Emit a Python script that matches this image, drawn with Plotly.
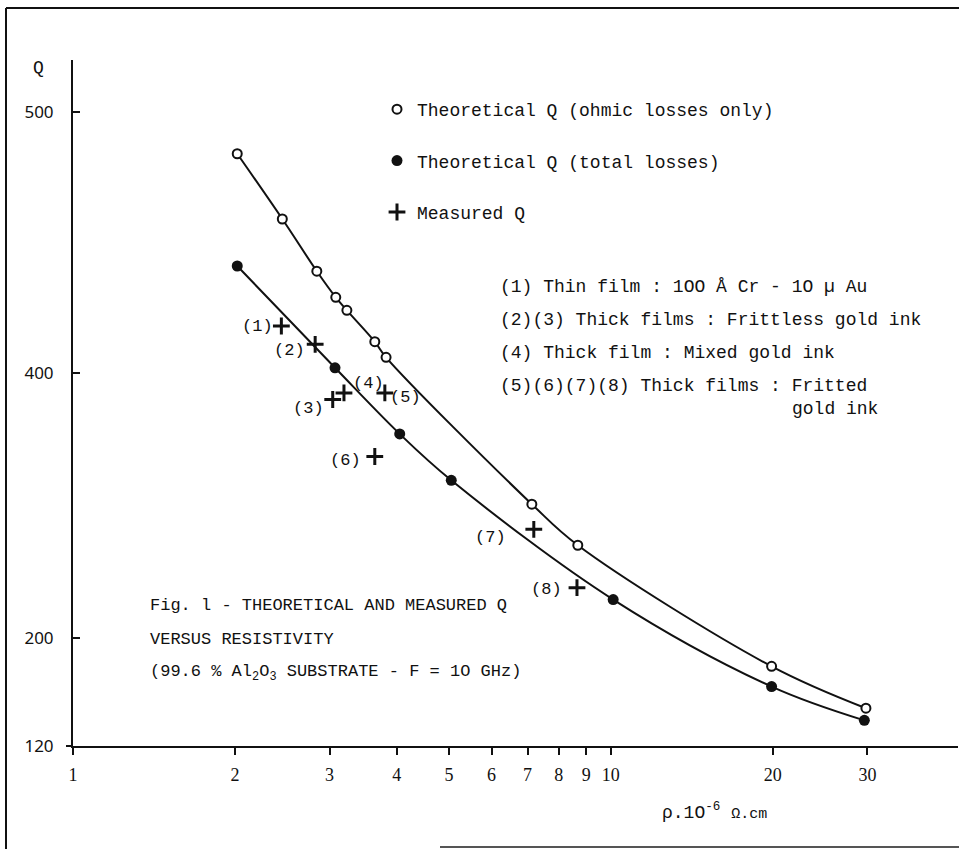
import numpy as np
import plotly.graph_objects as go

# ---------------- data ----------------
RHO_OHMIC = [2.02, 2.45, 2.84, 3.08, 3.23, 3.64, 3.82, 7.13, 8.68, 19.9, 29.8]
Q_OHMIC = [484, 459, 439, 429, 424, 412, 406, 301, 270, 179, 148]

RHO_TOTAL = [2.02, 3.07, 4.05, 5.05, 10.1, 19.9, 29.6]
Q_TOTAL = [441, 402, 354, 319, 229, 164, 139]

RHO_MEAS = [2.44, 2.82, 3.04, 3.19, 3.80, 3.64, 7.19, 8.65]
Q_MEAS = [418, 411, 380, 385, 385, 337, 282, 238]

MEAS_LABELS = ["(1)", "(2)", "(3)", "(4)", "(5)", "(6)", "(7)", "(8)"]
MEAS_LABEL_POINT = [0, 1, 2, 4, 4, 5, 6, 7]

X_TICKS = [1, 2, 3, 4, 5, 6, 7, 8, 9, 10, 20, 30]
X_TICK_TEXT = ["1", "2", "3", "4", "5", "6", "7", "8", "9", "10", "20", "30"]
Y_TICKS = [120, 200, 400, 500]
Y_TICK_TEXT = ["120", "200", "400", "500"]

# The printed Q axis is irregular: tick spacing along the axis (axis units)
Y_TICK_AXIS_POS = [0, 108, 373, 634]


def qscale(q):
    return np.interp(q, Y_TICKS, Y_TICK_AXIS_POS)


# ---------------- geometry helpers ----------------
W, H = 959, 849
ML, MR, MT, MB = 73, 1, 60, 103
PW, PH = W - ML - MR, H - MT - MB


def px_x(p):
    return (p - ML) / PW


def px_y(p):
    return (H - MB - p) / PH


MONO = "Liberation Mono"
BLACK = "#111"

fig = go.Figure()

# curves
fig.add_trace(go.Scatter(x=RHO_OHMIC, y=qscale(Q_OHMIC), mode="lines",
                         line=dict(color=BLACK, width=2, shape="spline", smoothing=1.0),
                         showlegend=False, hoverinfo="skip"))
fig.add_trace(go.Scatter(x=RHO_TOTAL, y=qscale(Q_TOTAL), mode="lines",
                         line=dict(color=BLACK, width=2, shape="spline", smoothing=1.0),
                         showlegend=False, hoverinfo="skip"))

# markers (also legend entries)
fig.add_trace(go.Scatter(x=RHO_OHMIC, y=qscale(Q_OHMIC), mode="markers",
                         name="Theoretical Q (ohmic losses only)", legendgroup="a",
                         marker=dict(symbol="circle", size=9, color="white",
                                     line=dict(color=BLACK, width=2))))
fig.add_trace(go.Scatter(x=RHO_TOTAL, y=qscale(Q_TOTAL), mode="markers",
                         name="Theoretical Q (total losses)", legendgroup="b",
                         marker=dict(symbol="circle", size=11, color=BLACK,
                                     line=dict(color=BLACK, width=0))))
fig.add_trace(go.Scatter(x=RHO_MEAS, y=qscale(Q_MEAS), mode="markers",
                         name="Measured Q", legendgroup="c",
                         marker=dict(symbol="cross-thin", size=12,
                                     line=dict(color=BLACK, width=3))))

annotations = []
# point labels
label_shift = {
    "(1)": ("right", -6, 0), "(2)": ("right", -8, -6), "(3)": ("right", -7, -9),
    "(4)": ("right", 1, 9), "(5)": ("left", 3, -5), "(6)": ("right", -12, -4),
    "(7)": ("right", -26, -8), "(8)": ("right", -13, -2),
}
for lab, idx in zip(MEAS_LABELS, MEAS_LABEL_POINT):
    anc, xs, ys = label_shift[lab]
    annotations.append(dict(x=np.log10(RHO_MEAS[idx]), y=float(qscale(Q_MEAS[idx])),
                            xref="x", yref="y", text=lab, showarrow=False,
                            xanchor=anc, yanchor="middle", xshift=xs, yshift=ys,
                            font=dict(family=MONO, size=17, color=BLACK)))

# notes on the right
notes = [
    ("(1) Thin film : 1OO Å Cr - 1O µ Au", 287),
    ("(2)(3) Thick films : Frittless gold ink", 320),
    ("(4) Thick film : Mixed gold ink", 353),
    ("(5)(6)(7)(8) Thick films : Fritted", 386),
]
for txt, yy in notes:
    annotations.append(dict(x=px_x(498), y=px_y(yy), xref="paper", yref="paper",
                            text=txt, showarrow=False, xanchor="left", yanchor="middle",
                            font=dict(family=MONO, size=18, color=BLACK)))
annotations.append(dict(x=px_x(498 + 27 * 10.8), y=px_y(409), xref="paper", yref="paper",
                        text="gold ink", showarrow=False, xanchor="left", yanchor="middle",
                        font=dict(family=MONO, size=18, color=BLACK)))

# caption
caption = [
    ("Fig. l - THEORETICAL AND MEASURED Q", 605),
    ("VERSUS RESISTIVITY", 639),
    ("(99.6 % Al<sub>2</sub>O<sub>3</sub> SUBSTRATE - F = 1O GHz)", 673),
]
for txt, yy in caption:
    annotations.append(dict(x=px_x(148), y=px_y(yy), xref="paper", yref="paper",
                            text=txt, showarrow=False, xanchor="left", yanchor="middle",
                            font=dict(family=MONO, size=17, color=BLACK)))

# axis titles
annotations.append(dict(x=px_x(38), y=px_y(68), xref="paper", yref="paper", text="Q",
                        showarrow=False, xanchor="center", yanchor="middle",
                        font=dict(family=MONO, size=18, color=BLACK)))
annotations.append(dict(x=px_x(660), y=px_y(812), xref="paper", yref="paper",
                        text="ρ.1O<sup>-6</sup> <span style='font-size:15px'>Ω.cm</span>",
                        showarrow=False, xanchor="left", yanchor="middle",
                        font=dict(family=MONO, size=18, color=BLACK)))

shapes = [
    # frame
    dict(type="line", xref="paper", yref="paper", x0=px_x(6), x1=px_x(6),
         y0=px_y(8), y1=px_y(849), line=dict(color=BLACK, width=2)),
    dict(type="line", xref="paper", yref="paper", x0=px_x(6), x1=px_x(959),
         y0=px_y(8), y1=px_y(8), line=dict(color=BLACK, width=2)),
    dict(type="line", xref="paper", yref="paper", x0=px_x(440), x1=px_x(959),
         y0=px_y(847), y1=px_y(847), line=dict(color="#555", width=2)),
    # tick at 120 extends left of the Q axis
    dict(type="line", xref="paper", yref="paper", x0=px_x(66), x1=px_x(73),
         y0=0, y1=0, line=dict(color=BLACK, width=2)),
]

fig.update_layout(
    width=W, height=H,
    margin=dict(l=ML, r=MR, t=MT, b=MB),
    paper_bgcolor="white", plot_bgcolor="white",
    showlegend=True,
    legend=dict(x=px_x(377), y=px_y(91), xanchor="left", yanchor="top",
                font=dict(family=MONO, size=18, color=BLACK),
                tracegroupgap=25, bgcolor="rgba(0,0,0,0)", borderwidth=0),
    xaxis=dict(type="log", range=[0, np.log10(44.2)], showgrid=False, zeroline=False,
               showline=True, linecolor=BLACK, linewidth=2,
               ticks="outside", ticklen=7, tickwidth=2, tickcolor=BLACK,
               tickvals=X_TICKS, ticktext=X_TICK_TEXT, ticklabelstandoff=4,
               tickfont=dict(family="Liberation Serif", size=18, color=BLACK)),
    yaxis=dict(range=[0, PH], showgrid=False, zeroline=False,
               showline=True, linecolor=BLACK, linewidth=2,
               ticks="inside", ticklen=7, tickwidth=2, tickcolor=BLACK,
               tickvals=qscale(Y_TICKS), ticktext=Y_TICK_TEXT, ticklabelstandoff=14,
               tickfont=dict(family="Noto Sans", size=17, color=BLACK)),
    annotations=annotations,
    shapes=shapes,
)

fig.write_html("out.html", config={"displayModeBar": False},
               post_script="document.body.style.margin='0';document.body.style.overflow='hidden';")
